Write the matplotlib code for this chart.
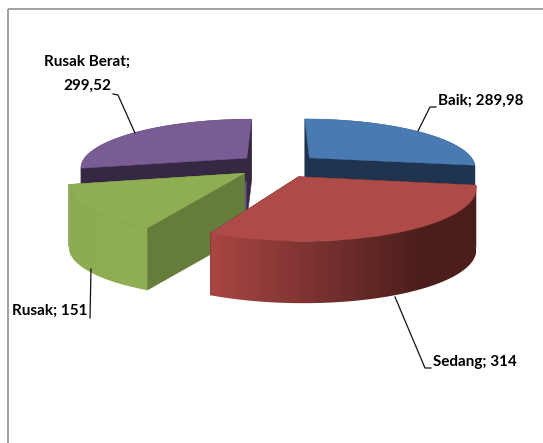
import numpy as np
import matplotlib
matplotlib.use("Agg")
import matplotlib.pyplot as plt
from matplotlib.patches import Polygon

# data
names = ["Baik", "Sedang", "Rusak", "Rusak Berat"]
values = [289.98, 314, 151, 299.52]
value_labels = ["Baik; 289,98", "Sedang; 314", "Rusak; 151", "Rusak Berat;\n299,52"]

# style
top_colors = ["#4a7ab2", "#ae4a47", "#8fad52", "#7a5c95"]
cut_colors = ["#1f344f", "#4d1e1d", "#657c3a", "#352843"]
wall_left = ["#1f344f", "#a94644", "#8dab50", "#352843"]
wall_right = ["#1f344f", "#4b1e1c", "#90ae53", "#352843"]
back_edge_colors = ["#1f344f", "#4d1e1d", "#657c3a", "#654c85"]
draw_order = [3, 0, 2, 1]

# projection of the tilted pie, in pixels
cx, cy = 278.5, 165.5
A, B, P = 167.0, 48.4, 0.179
explode = 0.25
depth = 62


def project(X, Y):
    w = 1 + P * Y
    return cx + A * X / w, cy - B * Y / w


fig = plt.figure(figsize=(5.43, 4.43), dpi=100)
ax = fig.add_axes([0, 0, 1, 1])

# frame
ax.plot([8, 8], [443, 9], color="#888888", lw=1.1, solid_capstyle="butt")
ax.plot([8, 543], [9, 9], color="#888888", lw=1.1, solid_capstyle="butt")

angles = 360 * np.cumsum([0] + values) / sum(values)

for z, i in enumerate(draw_order):
    z = 2 + z
    t1, t2 = np.radians(angles[i]), np.radians(angles[i + 1])
    mid = (t1 + t2) / 2
    ex, ey = explode * np.sin(mid), explode * np.cos(mid)
    th = np.linspace(t1, t2, 120)
    xs, ys = project(ex + np.sin(th), ey + np.cos(th))
    ax0, ay0 = project(ex, ey)

    # cut faces
    ax.add_patch(Polygon([(xs[0], ys[0]), (ax0, ay0), (ax0, ay0 + depth), (xs[0], ys[0] + depth)],
                         fc=back_edge_colors[i], ec=back_edge_colors[i], lw=0.3, zorder=z))
    ax.add_patch(Polygon([(xs[-1], ys[-1]), (ax0, ay0), (ax0, ay0 + depth), (xs[-1], ys[-1] + depth)],
                         fc=cut_colors[i], ec=cut_colors[i], lw=0.3, zorder=z))

    # outer wall, gradient runs left to right
    wall = np.column_stack([np.r_[xs, xs[::-1]], np.r_[ys, ys[::-1] + depth]])
    wall_patch = Polygon(wall, fc="none", ec="none", zorder=z)
    ax.add_patch(wall_patch)
    c0 = np.array(matplotlib.colors.to_rgb(wall_left[i]))
    c1 = np.array(matplotlib.colors.to_rgb(wall_right[i]))
    f = np.clip(np.linspace(0, 1, 256) / (0.8 if i == 1 else 1.0), 0, 1)
    grad = (c0 + (c1 - c0) * f[:, None])[None, :, :]
    im = ax.imshow(grad, extent=[xs.min(), xs.max(), 443, 0], aspect="auto", zorder=z,
                   interpolation="bilinear")
    im.set_clip_path(wall_patch)

    # top
    ax.add_patch(Polygon(np.column_stack([np.r_[ax0, xs], np.r_[ay0, ys]]),
                         fc=top_colors[i], ec=top_colors[i], lw=0.3, zorder=z))

ax.set_xlim(0, 543)
ax.set_ylim(443, 0)
ax.axis("off")

# leader lines
leaders = [
    ([418, 430, 436], [131, 107, 107]),
    ([395, 425, 431], [297, 368, 368]),
    ([91, 90], [269, 318]),
    ([135, 118, 113], [133, 95, 94]),
]
for lx, ly in leaders:
    ax.plot(lx, ly, color="#111111", lw=0.9, zorder=10)

# labels
label_pos = [(438, 101, "left"), (433, 362, "left"), (12, 311, "left"), (87, 74, "center")]
for lab, (lx, ly, ha) in zip(value_labels, label_pos):
    ax.text(lx, ly, lab, ha=ha, va="center", fontsize=11, fontweight="bold",
            family=["Lato", "DejaVu Sans"], color="black", linespacing=1.95, zorder=11)

fig.savefig("out.png", dpi=100, facecolor="white")
